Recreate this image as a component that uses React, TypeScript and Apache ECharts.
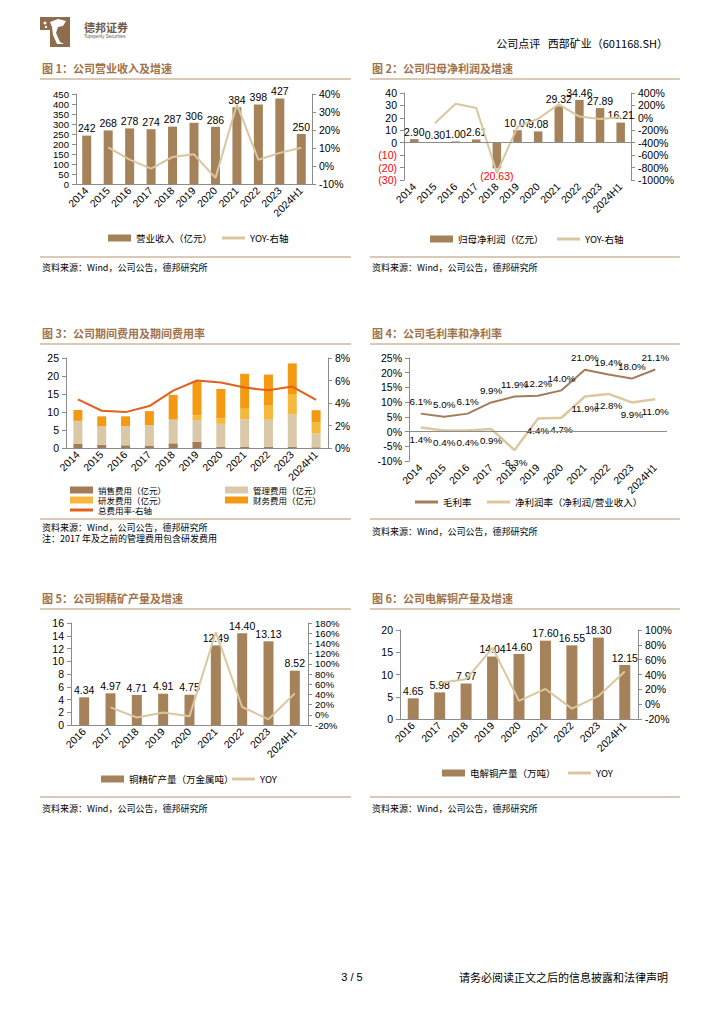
import React, { useEffect, useRef } from "react";
import * as echarts from "echarts";

// ---------- DATA ----------
const years11 = ["2014", "2015", "2016", "2017", "2018", "2019", "2020", "2021", "2022", "2023", "2024H1"];
const years9 = ["2016", "2017", "2018", "2019", "2020", "2021", "2022", "2023", "2024H1"];

// Fig 1
const revenue = [242, 268, 278, 274, 287, 306, 286, 384, 398, 427, 250];
const revenueYoy = [null, 10.3, 3.5, -1.5, 5.0, 6.5, -6.6, 34.2, 3.5, 7.3, 10.1];

// Fig 2
const netProfit = [2.9, 0.3, 1.0, 2.61, -20.63, 10.07, 9.08, 29.32, 34.46, 27.89, 16.21];
const netProfitYoy = [null, -88, 228, 160, -887, -145, -15, 218, 20, -17, 11];

// Fig 3
const sellingExp = [1.2, 0.9, 0.75, 0.55, 1.3, 1.75, 0.3, 0.3, 0.3, 0.3, 0.2];
const adminExp = [6.35, 5.1, 5.3, 5.8, 6.6, 6.0, 6.4, 7.7, 7.55, 9.1, 3.8];
const rdExp = [0, 0, 0, 0, 0, 1.3, 1.5, 2.9, 4.1, 5.6, 3.2];
const financeExp = [3.0, 2.8, 2.75, 3.9, 6.85, 9.45, 8.2, 9.7, 8.45, 8.5, 3.3];
const expenseRate = [4.33, 3.31, 3.19, 3.73, 5.1, 6.0, 5.82, 5.37, 5.13, 5.46, 4.27];

// Fig 4
const grossMargin = [6.1, 5.0, 6.1, 9.9, 11.9, 12.2, 14.0, 21.0, 19.4, 18.0, 21.1];
const netMargin = [1.4, 0.4, 0.4, 0.9, -6.3, 4.4, 4.7, 11.9, 12.8, 9.9, 11.0];

// Fig 5
const copperConc = [4.34, 4.97, 4.71, 4.91, 4.75, 12.49, 14.4, 13.13, 8.52];
const copperConcYoy = [null, 14.5, -5.2, 4.3, -3.0, 162, 15.3, -8.8, 42];

// Fig 6
const cathode = [4.65, 5.98, 7.97, 14.04, 14.6, 17.6, 16.55, 18.3, 12.15];
const cathodeYoy = [null, 29, 33.5, 76, 4.5, 20.5, -6, 10.8, 44];

// ---------- STYLE ----------
const FONT = '"Liberation Sans", Arial, "Noto Sans CJK SC", sans-serif';
const CJK = '"Noto Sans CJK SC", "Liberation Sans", sans-serif';
const AXIS = "#8c8c8c";
const BAR = "#A6825A";
const LINE = "#D9C7A0";
const TITLE = "#A0724A";
const RULE = "#B8916C";

function catAxis(gridIndex: number, data: string[], showLine = true) {
  return {
    type: "category",
    gridIndex,
    data,
    axisLine: { show: showLine, onZero: false, lineStyle: { color: AXIS } },
    axisTick: { show: false },
    axisLabel: { rotate: 45, fontSize: 10.5, color: "#000", margin: 5, interval: 0, fontFamily: FONT },
  };
}

function valAxis(
  gridIndex: number,
  min: number,
  max: number,
  interval: number,
  position: string,
  formatter?: any,
  rich?: any,
  fontSize = 10.5
) {
  return {
    type: "value",
    gridIndex,
    min,
    max,
    interval,
    position,
    splitLine: { show: false },
    axisLine: { show: true, lineStyle: { color: AXIS } },
    axisTick: { show: true, length: 4, lineStyle: { color: AXIS } },
    axisLabel: {
      fontSize,
      lineHeight: 8,
      color: "#000",
      margin: 7,
      fontFamily: FONT,
      formatter,
      rich,
      showMinLabel: true,
      showMaxLabel: true,
      hideOverlap: false,
    },
  };
}

const pct = (v: number) => `${v}%`;
const valLabel = (digits: number) => ({
  show: true,
  position: "top",
  distance: 2,
  fontSize: 10.5,
  color: "#000",
  fontFamily: FONT,
  formatter: (p: any) => Number(p.value).toFixed(digits),
});

function legendItem(name: string, left: number, centerY: number, isLine = false, fs = 9.5, lh = fs + 1) {
  return {
    show: true,
    data: [{ name, icon: "rect" }],
    left,
    top: centerY - lh / 2,
    padding: 0,
    itemWidth: 23,
    itemHeight: isLine ? 3 : 7,
    itemGap: 5,
    selectedMode: false,
    textStyle: { fontSize: fs, color: "#000", fontFamily: CJK, lineHeight: lh },
  };
}

function txt(text: string, x: number, y: number, size: number, opts: any = {}) {
  return {
    type: "text",
    x,
    y,
    silent: true,
    style: {
      text,
      fill: opts.fill || "#000",
      fontSize: size,
      fontFamily: opts.font || CJK,
      fontWeight: opts.bold ? "bold" : "normal",
      align: opts.align || "left",
      verticalAlign: "middle",
    },
  };
}

function hline(x1: number, x2: number, y: number, color = RULE, width = 1.2) {
  return { type: "line", silent: true, shape: { x1, y1: y, x2, y2: y }, style: { stroke: color, lineWidth: width } };
}

function lineSeries(name: string, xi: number, yi: number, data: any[], color: string, width = 2, label?: any) {
  return {
    name,
    type: "line",
    xAxisIndex: xi,
    yAxisIndex: yi,
    data,
    symbol: "circle",
    symbolSize: 0.1,
    showSymbol: true,
    lineStyle: { color, width },
    itemStyle: { color },
    label: label || { show: false },
  };
}

export default function App() {
  const ref = useRef<HTMLDivElement>(null);

  useEffect(() => {
    if (!ref.current) return;
    const chart = echarts.init(ref.current, null, { renderer: "svg" });

    const zeroLine = {
      silent: true,
      symbol: "none",
      label: { show: false },
      lineStyle: { color: AXIS, width: 1, type: "solid" },
      data: [{ yAxis: 0 }],
    };

    const pctLabel = (position: string) => ({
      show: true,
      position,
      distance: 7,
      fontSize: 9.8,
      color: "#000",
      fontFamily: FONT,
      formatter: (p: any) => Number(p.value).toFixed(1) + "%",
    });

    const grad = new echarts.graphic.LinearGradient(0, 0, 1, 0, [
      { offset: 0, color: "#C4AA92" },
      { offset: 0.5, color: "#A88463" },
      { offset: 1, color: "#9B7757" },
    ]);

    const option: any = {
      animation: false,
      backgroundColor: "#ffffff",
      textStyle: { fontFamily: FONT },
      grid: [
        { left: 76, top: 94, width: 236, height: 90 },
        { left: 404, top: 93, width: 227, height: 87 },
        { left: 66, top: 358, width: 262, height: 90 },
        { left: 409, top: 358, width: 258, height: 103 },
        { left: 71, top: 623, width: 237, height: 102 },
        { left: 400, top: 630, width: 238, height: 89 },
      ],
      xAxis: [
        catAxis(0, years11),
        catAxis(1, years11, false),
        catAxis(2, years11),
        catAxis(3, years11, false),
        catAxis(4, years9),
        catAxis(5, years9),
      ],
      yAxis: [
        valAxis(0, 0, 450, 50, "left", undefined, undefined, 9.6),
        valAxis(0, -10, 40, 10, "right", pct),
        valAxis(1, -30, 40, 10, "left", (v: number) => (v < 0 ? `{neg|(${-v})}` : `${v}`), {
          neg: { color: "#FF0000", fontSize: 10.5, fontFamily: FONT, lineHeight: 8 },
        }),
        valAxis(1, -1000, 400, 200, "right", pct),
        valAxis(2, 0, 25, 5, "left"),
        valAxis(2, 0, 8, 2, "right", pct),
        valAxis(3, -10, 25, 5, "left", pct),
        valAxis(4, 0, 16, 2, "left"),
        valAxis(4, -20, 180, 20, "right", pct, undefined, 9.6),
        valAxis(5, 0, 20, 5, "left"),
        valAxis(5, -20, 100, 20, "right", pct),
      ],
      legend: [
        legendItem("营业收入（亿元）", 108, 238),
        legendItem("YOY-右轴", 222, 238, true),
        legendItem("归母净利润（亿元）", 430, 239),
        legendItem("YOY-右轴 ", 557, 239, true),
        legendItem("销售费用（亿元）", 70, 490, false, 8.5, 8.5),
        legendItem("管理费用（亿元）", 225, 490, false, 8.5, 8.5),
        legendItem("研发费用（亿元）", 70, 500, false, 8.5, 8.5),
        legendItem("财务费用（亿元）", 225, 500, false, 8.5, 8.5),
        legendItem("总费用率-右轴", 70, 510, true, 8.5, 8.5),
        legendItem("毛利率", 415, 502, true),
        legendItem("净利润率（净利润/营业收入）", 487, 502, true),
        legendItem("铜精矿产量（万金属吨）", 101, 779),
        legendItem("YOY", 232, 779, true),
        legendItem("电解铜产量（万吨）", 442, 773),
        legendItem("YOY ", 568, 773, true),
      ],
      series: [
        // Fig 1
        {
          name: "营业收入（亿元）",
          type: "bar",
          xAxisIndex: 0,
          yAxisIndex: 0,
          data: revenue,
          barWidth: 9,
          itemStyle: { color: BAR },
          label: valLabel(0),
        },
        lineSeries("YOY-右轴", 0, 1, revenueYoy, LINE),
        // Fig 2
        {
          name: "归母净利润（亿元）",
          type: "bar",
          xAxisIndex: 1,
          yAxisIndex: 2,
          data: netProfit.map((v) =>
            v < 0 ? { value: v, label: { position: "bottom", color: "#FF0000" } } : { value: v }
          ),
          barWidth: 8.5,
          itemStyle: { color: BAR },
          label: {
            ...valLabel(2),
            formatter: (p: any) => (p.value < 0 ? `(${(-p.value).toFixed(2)})` : Number(p.value).toFixed(2)),
          },
          markLine: zeroLine,
        },
        lineSeries("YOY-右轴 ", 1, 3, netProfitYoy, LINE),
        // Fig 3
        {
          name: "销售费用（亿元）",
          type: "bar",
          stack: "fee",
          xAxisIndex: 2,
          yAxisIndex: 4,
          data: sellingExp,
          barWidth: 9,
          itemStyle: { color: "#A27C55" },
        },
        {
          name: "管理费用（亿元）",
          type: "bar",
          stack: "fee",
          xAxisIndex: 2,
          yAxisIndex: 4,
          data: adminExp,
          barWidth: 9,
          itemStyle: { color: "#D9C9A9" },
        },
        {
          name: "研发费用（亿元）",
          type: "bar",
          stack: "fee",
          xAxisIndex: 2,
          yAxisIndex: 4,
          data: rdExp,
          barWidth: 9,
          itemStyle: { color: "#F4B93C" },
        },
        {
          name: "财务费用（亿元）",
          type: "bar",
          stack: "fee",
          xAxisIndex: 2,
          yAxisIndex: 4,
          data: financeExp,
          barWidth: 9,
          itemStyle: { color: "#F39A12" },
        },
        lineSeries("总费用率-右轴", 2, 5, expenseRate, "#E0601C"),
        // Fig 4
        {
          ...lineSeries("毛利率", 3, 6, grossMargin, "#A47C5C", 2, pctLabel("top")),
          markLine: zeroLine,
        },
        lineSeries("净利润率（净利润/营业收入）", 3, 6, netMargin, "#DCC89E", 2.5, pctLabel("bottom")),
        // Fig 5
        {
          name: "铜精矿产量（万金属吨）",
          type: "bar",
          xAxisIndex: 4,
          yAxisIndex: 7,
          data: copperConc,
          barWidth: 10,
          itemStyle: { color: BAR },
          label: valLabel(2),
        },
        lineSeries("YOY", 4, 8, copperConcYoy, LINE),
        // Fig 6
        {
          name: "电解铜产量（万吨）",
          type: "bar",
          xAxisIndex: 5,
          yAxisIndex: 9,
          data: cathode,
          barWidth: 11,
          itemStyle: { color: BAR },
          label: valLabel(2),
        },
        lineSeries("YOY ", 5, 10, cathodeYoy, LINE),
      ],
      graphic: [
        // header logo
        { type: "rect", silent: true, shape: { x: 40, y: 17, width: 30, height: 13 }, style: { fill: "#8E6C4E" } },
        { type: "rect", silent: true, shape: { x: 50, y: 29, width: 20, height: 18 }, style: { fill: "#8E6C4E" } },
        {
          type: "polygon",
          silent: true,
          shape: { points: [[50, 22], [58, 19], [66, 21], [63, 26], [58, 27], [56, 33], [60, 42], [64, 44], [57, 44], [53, 35], [52, 27]] },
          style: { fill: "#ffffff" },
        },
        { type: "circle", silent: true, shape: { cx: 45, cy: 23, r: 1.5 }, style: { fill: "#ffffff" } },
        { type: "circle", silent: true, shape: { cx: 46, cy: 27, r: 1.2 }, style: { fill: "#ffffff" } },
        txt("德邦证券", 84, 27, 11, { bold: true, fill: "#6E5A48" }),
        txt("Topsperity Securities", 84, 36, 4.5, { font: FONT, fill: "#6E5A48" }),
        txt("公司点评   西部矿业（601168.SH）", 668, 43, 11, { align: "right" }),
        { type: "line", silent: true, shape: { x1: 40, y1: 53, x2: 668, y2: 53 }, style: { lineWidth: 2, stroke: grad } },
        // Fig titles & rules
        txt("图 1：公司营业收入及增速", 42, 68, 11, { bold: true, fill: TITLE }),
        hline(40, 351, 79),
        hline(40, 351, 257),
        txt("资料来源：Wind，公司公告，德邦研究所", 42, 267, 9),

        txt("图 2：公司归母净利润及增速", 372, 68, 11, { bold: true, fill: TITLE }),
        hline(370, 680, 79),
        hline(370, 680, 257),
        txt("资料来源：Wind，公司公告，德邦研究所", 372, 267, 9),

        txt("图 3：公司期间费用及期间费用率", 42, 333, 11, { bold: true, fill: TITLE }),
        hline(40, 351, 344),
        hline(40, 351, 519),
        txt("资料来源：Wind，公司公告，德邦研究所", 42, 527, 9),
        txt("注：2017 年及之前的管理费用包含研发费用", 42, 538, 9),

        txt("图 4：公司毛利率和净利率", 372, 333, 11, { bold: true, fill: TITLE }),
        hline(370, 680, 344),
        hline(370, 680, 519),
        txt("资料来源：Wind，公司公告，德邦研究所", 372, 531, 9),

        txt("图 5：公司铜精矿产量及增速", 42, 598, 11, { bold: true, fill: TITLE }),
        hline(40, 351, 609),
        hline(40, 351, 797),
        txt("资料来源：Wind，公司公告，德邦研究所", 42, 808, 9),

        txt("图 6：公司电解铜产量及增速", 372, 598, 11, { bold: true, fill: TITLE }),
        hline(370, 680, 609),
        hline(370, 680, 797),
        txt("资料来源：Wind，公司公告，德邦研究所", 372, 808, 9),

        // footer
        { type: "line", silent: true, shape: { x1: 40, y1: 967, x2: 668, y2: 967 }, style: { lineWidth: 2, stroke: grad } },
        txt("3 / 5", 352, 977, 11, { font: FONT, align: "center" }),
        txt("请务必阅读正文之后的信息披露和法律声明", 668, 977, 11, { align: "right" }),
      ],
    };

    chart.setOption(option);
    return () => chart.dispose();
  }, []);

  return (
    <div
      ref={ref}
      style={{ position: "absolute", left: 0, top: 0, width: 724, height: 1024, background: "#fff" }}
    />
  );
}
